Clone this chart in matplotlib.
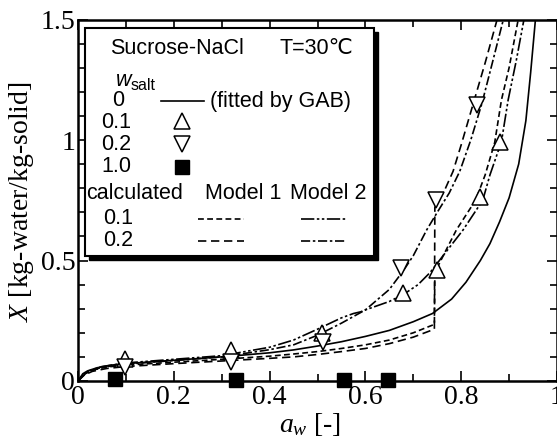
import numpy as np
import matplotlib
matplotlib.use('Agg')
import matplotlib.pyplot as plt
from matplotlib.patches import Rectangle
from matplotlib.ticker import MultipleLocator, FormatStrFormatter

plt.rcParams['font.family'] = ['Liberation Serif', 'DejaVu Serif']
plt.rcParams['mathtext.fontset'] = 'custom'
plt.rcParams['mathtext.rm'] = 'Liberation Serif'
plt.rcParams['mathtext.it'] = 'Liberation Serif:italic'

# GAB fit, w_salt = 0
gab_aw = [0, 0.01, 0.02, 0.04, 0.07, 0.1, 0.15, 0.2, 0.3, 0.4, 0.45, 0.5, 0.55, 0.6,
          0.65, 0.7, 0.74, 0.78, 0.81, 0.84, 0.86, 0.88, 0.9, 0.92, 0.935, 0.945, 0.955]
gab_x = [0, 0.03, 0.042, 0.055, 0.066, 0.072, 0.079, 0.086, 0.1, 0.117, 0.129, 0.145, 0.163, 0.185,
         0.21, 0.246, 0.28, 0.34, 0.41, 0.5, 0.57, 0.66, 0.76, 0.9, 1.08, 1.28, 1.5]

# Model 1
m1_01_aw = [0, 0.01, 0.03, 0.06, 0.1, 0.2, 0.3, 0.4, 0.45, 0.5, 0.55, 0.6, 0.65, 0.7, 0.744,
            0.745, 0.765, 0.79, 0.83, 0.85, 0.87, 0.884, 0.9, 0.919]
m1_01_x = [0, 0.025, 0.045, 0.058, 0.066, 0.078, 0.09, 0.103, 0.112, 0.122, 0.135, 0.15, 0.17, 0.2, 0.235,
           0.45, 0.53, 0.627, 0.75, 0.855, 0.99, 1.166, 1.3, 1.5]
m1_02_aw = [0, 0.01, 0.03, 0.06, 0.1, 0.2, 0.3, 0.4, 0.45, 0.5, 0.55, 0.6, 0.65, 0.7, 0.744,
            0.745, 0.765, 0.783, 0.8, 0.825, 0.85, 0.875]
m1_02_x = [0, 0.022, 0.04, 0.052, 0.06, 0.072, 0.083, 0.094, 0.1, 0.11, 0.122, 0.135, 0.155, 0.182, 0.215,
           0.72, 0.79, 0.87, 0.98, 1.15, 1.32, 1.5]

# Model 2
m2_01_aw = [0, 0.02, 0.05, 0.1, 0.2, 0.3, 0.4, 0.45, 0.5, 0.55, 0.575, 0.59, 0.6, 0.65, 0.68,
            0.71, 0.735, 0.77, 0.804, 0.845, 0.86, 0.884, 0.898, 0.915, 0.931]
m2_01_x = [0, 0.04, 0.06, 0.075, 0.09, 0.105, 0.14, 0.17, 0.215, 0.262, 0.28, 0.287, 0.295, 0.33, 0.36,
           0.4, 0.45, 0.54, 0.627, 0.75, 0.855, 0.993, 1.166, 1.33, 1.5]
m2_02_aw = [0, 0.02, 0.05, 0.1, 0.2, 0.3, 0.4, 0.45, 0.5, 0.55, 0.6, 0.65, 0.68, 0.7, 0.728,
            0.75, 0.775, 0.797, 0.82, 0.843, 0.865, 0.888]
m2_02_x = [0, 0.038, 0.057, 0.07, 0.085, 0.1, 0.13, 0.15, 0.19, 0.24, 0.295, 0.38, 0.46, 0.52, 0.627,
           0.7, 0.78, 0.87, 1.0, 1.15, 1.32, 1.5]

# measured
up_aw = [0.098, 0.319, 0.509, 0.679, 0.75, 0.839, 0.881]
up_x = [0.09, 0.13, 0.2, 0.365, 0.46, 0.765, 0.993]
down_aw = [0.098, 0.32, 0.511, 0.675, 0.747, 0.834]
down_x = [0.058, 0.08, 0.163, 0.47, 0.75, 1.145]
sq_aw = [0.077, 0.33, 0.555, 0.647]
sq_x = [0.01, 0.005, 0.005, 0.005]

dash_m1_01 = (3.5, 2)
dash_m1_02 = (5, 2.8)
dash_m2_01 = (8, 1.5, 1.5, 1.5, 1.5, 1.5)
dash_m2_02 = (5.5, 1.6, 1.5, 1.6)

fig = plt.figure(figsize=(5.57, 4.43), dpi=100)
ax = fig.add_axes([78 / 557, 1 - 381 / 443, 479 / 557, 361.5 / 443])

lw = 1.2
ax.plot(gab_aw, gab_x, color='black', lw=lw)
ax.plot(m1_01_aw, m1_01_x, color='black', lw=lw, dashes=dash_m1_01)
ax.plot(m1_02_aw, m1_02_x, color='black', lw=lw, dashes=dash_m1_02)
ax.plot(m2_01_aw, m2_01_x, color='black', lw=lw, dashes=dash_m2_01)
ax.plot(m2_02_aw, m2_02_x, color='black', lw=lw, dashes=dash_m2_02)

ax.plot(up_aw, up_x, '^', ms=11, mfc='white', mec='black', mew=1.1, ls='none', zorder=5)
ax.plot(down_aw, down_x, 'v', ms=11, mfc='white', mec='black', mew=1.1, ls='none', zorder=5)
ax.plot(sq_aw, sq_x, 's', ms=9.5, color='black', ls='none', clip_on=False, zorder=6)

ax.set_xlim(0, 1)
ax.set_ylim(0, 1.5)
ax.xaxis.set_major_locator(MultipleLocator(0.2))
ax.xaxis.set_minor_locator(MultipleLocator(0.1))
ax.yaxis.set_major_locator(MultipleLocator(0.5))
ax.yaxis.set_minor_locator(MultipleLocator(0.1))
ax.xaxis.set_major_formatter(FormatStrFormatter('%g'))
ax.yaxis.set_major_formatter(FormatStrFormatter('%g'))
ax.tick_params(which='both', direction='in', top=True, right=True, width=1.2, labelsize=20)
ax.tick_params(axis='x', which='major', length=7, pad=3)
ax.tick_params(axis='y', which='major', length=7, pad=2)
ax.tick_params(which='minor', length=5)
for s in ax.spines.values():
    s.set_linewidth(1.8)

fig.text(22 / 557, 1 - 202 / 443, r'$X$ [kg-water/kg-solid]', rotation=90,
         ha='center', va='center', fontsize=20)
fig.text(310 / 557, 1 - 424 / 443, r'$a_w$ [-]', ha='center', va='center', fontsize=20)

# legend box
T = ax.transAxes
def fx(px):
    return (px - 78) / 479
def fy(py):
    return (381 - py) / 361.5

bx0, bx1, by0, by1 = fx(85), fx(374), fy(256), fy(28)
ax.add_patch(Rectangle((bx0 + 4 / 479, by0 - 4 / 361.5), bx1 - bx0, by1 - by0, transform=T,
                       facecolor='black', edgecolor='black', zorder=8))
ax.add_patch(Rectangle((bx0, by0), bx1 - bx0, by1 - by0, transform=T,
                       facecolor='white', edgecolor='black', lw=1.5, zorder=9))

sans = ['Liberation Sans', 'DejaVu Sans']
fs = 15.5
kw = dict(transform=T, family=sans, fontsize=fs, va='center', zorder=10)
ax.text(fx(110), fy(48), 'Sucrose-NaCl', ha='left', **kw)
ax.text(fx(279), fy(48), 'T=30℃', ha='left', **kw)
ax.text(fx(116), fy(80), 'w', ha='left', style='italic', **kw)
ax.text(fx(131), fy(86), 'salt', ha='left', transform=T, family=sans, fontsize=11.5,
        va='center', zorder=10)
ax.text(fx(118), fy(101), '0', ha='center', **kw)
ax.text(fx(116), fy(123), '0.1', ha='center', **kw)
ax.text(fx(116), fy(145), '0.2', ha='center', **kw)
ax.text(fx(116), fy(167), '1.0', ha='center', **kw)
ax.text(fx(210), fy(101), '(fitted by GAB)', ha='left', **kw)
ax.text(fx(86), fy(194), 'calculated', ha='left', **kw)
ax.text(fx(205), fy(194), 'Model 1', ha='left', **kw)
ax.text(fx(290), fy(194), 'Model 2', ha='left', **kw)
ax.text(fx(118), fy(219), '0.1', ha='center', **kw)
ax.text(fx(118), fy(241), '0.2', ha='center', **kw)

lkw = dict(transform=T, color='black', lw=lw, zorder=10)
ax.plot([fx(161), fx(204)], [fy(101), fy(101)], **lkw)
ax.plot([fx(182)], [fy(121)], '^', ms=11, mfc='white', mec='black', mew=1.1, transform=T, zorder=10)
ax.plot([fx(182)], [fy(144)], 'v', ms=11, mfc='white', mec='black', mew=1.1, transform=T, zorder=10)
ax.plot([fx(182)], [fy(167)], 's', ms=9.5, color='black', transform=T, zorder=10)
ax.plot([fx(198), fx(244)], [fy(219), fy(219)], dashes=dash_m1_01, **lkw)
ax.plot([fx(198), fx(244)], [fy(241), fy(241)], dashes=dash_m1_02, **lkw)
ax.plot([fx(301), fx(346)], [fy(219), fy(219)], dashes=dash_m2_01, **lkw)
ax.plot([fx(301), fx(346)], [fy(241), fy(241)], dashes=dash_m2_02, **lkw)

fig.savefig('out.png', dpi=100)
